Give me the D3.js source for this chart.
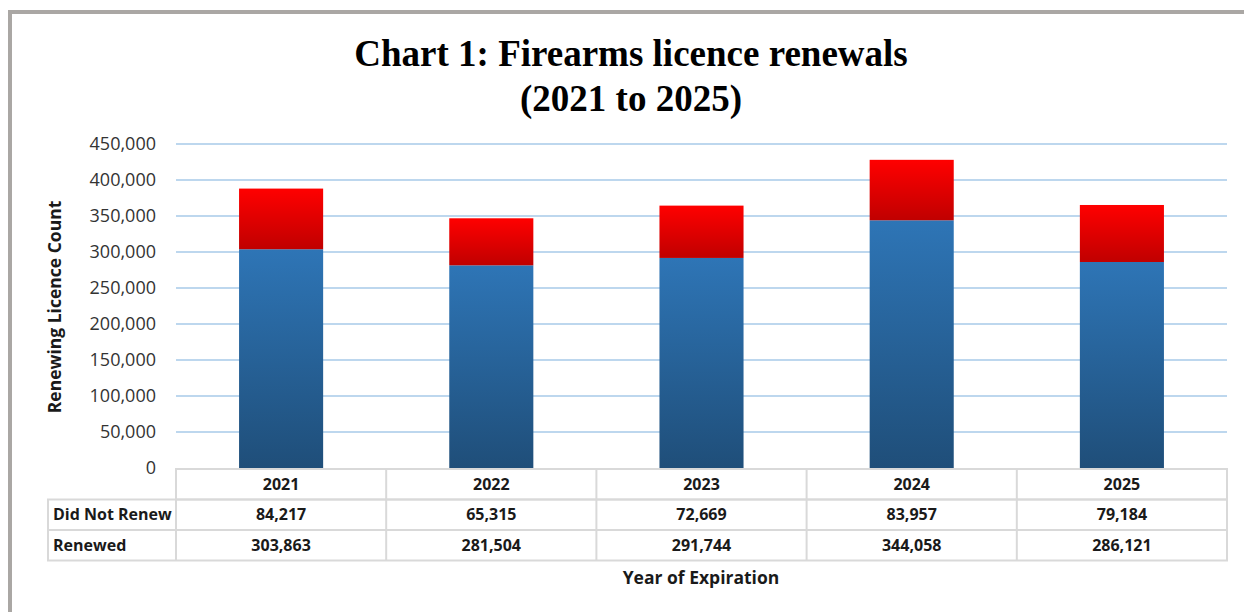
<!DOCTYPE html>
<html>
<head>
<meta charset="utf-8">
<script src="https://cdn.jsdelivr.net/npm/d3@7"></script>
<style>
body { margin: 0; background: #fff; }
svg { display: block; }
</style>
</head>
<body>
<script>
// chart data
var years = ['2021', '2022', '2023', '2024', '2025'];
var renewed = [303863, 281504, 291744, 344058, 286121];
var didNotRenew = [84217, 65315, 72669, 83957, 79184];
var seriesNames = ['Did Not Renew', 'Renewed'];
var yTicks = [0, 50000, 100000, 150000, 200000, 250000, 300000, 350000, 400000, 450000];

var W = 1244, H = 612;
var plot = {left: 176, right: 1227, top: 144, bottom: 468};
var sansFont = '"Open Sans", sans-serif';

var svg = d3.select('body').append('svg')
	.attr('width', W)
	.attr('height', H);

// outer frame (only top + left visible in the crop)
svg.append('path')
	.attr('d', 'M10,612 L10,12 L1244,12')
	.attr('fill', 'none')
	.attr('stroke', '#aaa7a4')
	.attr('stroke-width', 4);

var defs = svg.append('defs');
var blueGrad = defs.append('linearGradient').attr('id', 'gradBlue')
	.attr('x1', 0).attr('y1', 0).attr('x2', 0).attr('y2', 1);
blueGrad.append('stop').attr('offset', '0%').attr('stop-color', '#2e75b6');
blueGrad.append('stop').attr('offset', '100%').attr('stop-color', '#1f4e79');
var redGrad = defs.append('linearGradient').attr('id', 'gradRed')
	.attr('x1', 0).attr('y1', 0).attr('x2', 0).attr('y2', 1);
redGrad.append('stop').attr('offset', '0%').attr('stop-color', '#ff0000');
redGrad.append('stop').attr('offset', '100%').attr('stop-color', '#c00000');

// title
var title = svg.append('text')
	.attr('text-anchor', 'middle')
	.style('font-family', '"Liberation Serif", "Times New Roman", serif')
	.style('font-weight', 'bold')
	.style('font-size', '37px')
	.attr('fill', '#000');
title.append('tspan').attr('x', 631).attr('y', 66).text('Chart 1: Firearms licence renewals');
title.append('tspan').attr('x', 631).attr('y', 111).text('(2021 to 2025)');

var x = d3.scaleBand()
	.domain(years)
	.range([plot.left, plot.right])
	.paddingInner(0.6)
	.paddingOuter(0.3);

var y = d3.scaleLinear()
	.domain([0, 450000])
	.range([plot.bottom, plot.top]);

// gridlines
svg.append('g')
	.selectAll('line')
	.data(yTicks.slice(1))
	.enter()
	.append('line')
	.attr('x1', plot.left)
	.attr('x2', plot.right)
	.attr('y1', function(d){ return y(d); })
	.attr('y2', function(d){ return y(d); })
	.attr('stroke', '#bdd7ee')
	.attr('stroke-width', 2);

// y axis labels
var yAxis = svg.append('g')
	.attr('transform', 'translate(' + (plot.left - 20) + ',0)')
	.call(d3.axisLeft(y).tickValues(yTicks).tickSize(0).tickPadding(0).tickFormat(d3.format(',')));
yAxis.select('.domain').remove();
yAxis.selectAll('text')
	.style('font-family', sansFont)
	.style('font-size', '18px')
	.attr('fill', '#333333')
	.attr('dy', '0.32em');

// stacked bars
var table = years.map(function(yr, i){
	return {year: yr, 'Renewed': renewed[i], 'Did Not Renew': didNotRenew[i]};
});
var stack = d3.stack().keys(['Renewed', 'Did Not Renew']);
var layers = stack(table);

svg.append('g')
	.selectAll('g')
	.data(layers)
	.enter()
	.append('g')
	.attr('fill', function(d){
		return d.key == 'Renewed' ? 'url(#gradBlue)' : 'url(#gradRed)';
	})
	.selectAll('rect')
	.data(function(d){ return d; })
	.enter()
	.append('rect')
	.attr('x', function(d){ return x(d.data.year); })
	.attr('width', x.bandwidth())
	.attr('y', function(d){ return y(d[1]); })
	.attr('height', function(d){ return y(d[0]) - y(d[1]); });

// data table under the axis
var rowH = 30.5;
var tableTop = plot.bottom + 1;
var labelLeft = 48;
var colW = (plot.right - plot.left) / years.length;
var grid = svg.append('g')
	.attr('stroke', '#d9d9d9')
	.attr('stroke-width', 2)
	.attr('fill', 'none');

grid.append('rect')
	.attr('x', plot.left).attr('y', tableTop)
	.attr('width', plot.right - plot.left).attr('height', rowH);
grid.append('rect')
	.attr('x', labelLeft).attr('y', tableTop + rowH)
	.attr('width', plot.right - labelLeft).attr('height', rowH * 2);
grid.append('line')
	.attr('x1', labelLeft).attr('x2', plot.right)
	.attr('y1', tableTop + rowH * 2).attr('y2', tableTop + rowH * 2);
grid.selectAll('line.col')
	.data(d3.range(years.length))
	.enter()
	.append('line')
	.attr('class', 'col')
	.attr('x1', function(i){ return plot.left + i * colW; })
	.attr('x2', function(i){ return plot.left + i * colW; })
	.attr('y1', tableTop)
	.attr('y2', tableTop + rowH * 3);

var tableText = svg.append('g')
	.style('font-family', sansFont)
	.style('font-weight', 'bold')
	.style('font-size', '16px')
	.attr('fill', '#1a1a1a');

tableText.selectAll('text.year')
	.data(years)
	.enter()
	.append('text')
	.attr('class', 'year')
	.attr('text-anchor', 'middle')
	.attr('x', function(d){ return x(d) + x.bandwidth() / 2; })
	.attr('y', tableTop + rowH / 2)
	.attr('dy', '0.35em')
	.text(function(d){ return d; });

var rows = [didNotRenew, renewed];
rows.forEach(function(vals, r){
	var ry = tableTop + rowH * (r + 1) + rowH / 2;
	tableText.append('text')
		.attr('x', labelLeft + 5)
		.attr('y', ry)
		.attr('dy', '0.35em')
		.text(seriesNames[r]);
	tableText.selectAll('text.v' + r)
		.data(vals)
		.enter()
		.append('text')
		.attr('class', 'v' + r)
		.attr('text-anchor', 'middle')
		.attr('x', function(d, i){ return x(years[i]) + x.bandwidth() / 2; })
		.attr('y', ry)
		.attr('dy', '0.35em')
		.text(function(d){ return d3.format(',')(d); });
});

// axis titles
svg.append('text')
	.attr('transform', 'translate(61,307) rotate(-90)')
	.attr('text-anchor', 'middle')
	.style('font-family', sansFont)
	.style('font-weight', 'bold')
	.style('font-size', '17.5px')
	.attr('fill', '#1a1a1a')
	.text('Renewing Licence Count');

svg.append('text')
	.attr('x', 701)
	.attr('y', 584)
	.attr('text-anchor', 'middle')
	.style('font-family', sansFont)
	.style('font-weight', 'bold')
	.style('font-size', '17.5px')
	.attr('fill', '#1a1a1a')
	.text('Year of Expiration');
</script>
</body>
</html>
